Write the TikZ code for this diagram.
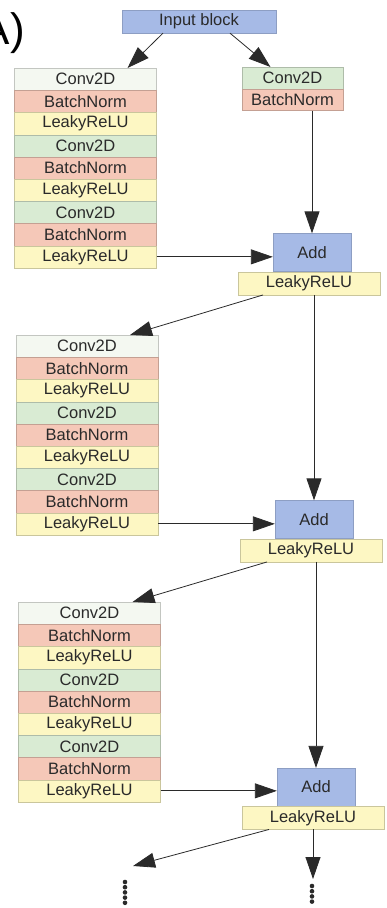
\documentclass[tikz,border=0pt]{standalone}
\usepackage{fontspec}
\setmainfont{Liberation Sans}
\usepackage{xcolor}
\usetikzlibrary{arrows.meta,positioning}

\definecolor{ink}{HTML}{2A2A2A}
\definecolor{convpale}{HTML}{F4F8F1}
\definecolor{convgreen}{HTML}{D9EBD3}
\definecolor{bnred}{HTML}{F5C8B8}
\definecolor{reluyel}{HTML}{FDF7C3}
\definecolor{addblue}{HTML}{A6BAE6}

\newcommand{\layfont}{\fontsize{16.5}{17}\selectfont}

\begin{document}
\begin{tikzpicture}[x=1pt, y=-1pt,
  lay/.style={draw=#1!80!black, fill=#1, line width=0.3pt, minimum width=142pt,
    minimum height=22.2pt, inner sep=0pt, text=ink, font=\layfont},
  addbox/.style={draw=addblue!85!black, fill=addblue, line width=0.3pt, minimum width=78pt,
    minimum height=38pt, inner sep=0pt, text=ink, font=\layfont},
  arr/.style={draw=ink, line width=0.8pt, -{Triangle[length=22pt,width=15pt]}}]
\useasboundingbox (0,0) rectangle (386,908);

% Panel label
\node[anchor=base east, inner sep=0pt, font=\fontsize{44}{44}\selectfont] (lbl) at (25,44) {A)};

% Input
\node[addbox, minimum width=154pt, minimum height=23pt] (inp) at (199,21.5) {Input block};

% Shortcut branch
\node[lay=convgreen, minimum width=101pt, minimum height=21.5pt, anchor=north] (rconv) at (292.5,67) {Conv2D};
\node[lay=bnred, minimum width=101pt, minimum height=21.5pt, below=0pt of rconv] (rbn) {BatchNorm};

% Residual blocks (left)
\foreach \b/\x/\y in {1/85.5/68, 2/87/335, 3/89.5/602} {
  \foreach \c/\t [count=\i] in {convpale/Conv2D, bnred/BatchNorm, reluyel/LeakyReLU,
      convgreen/Conv2D, bnred/BatchNorm, reluyel/LeakyReLU,
      convgreen/Conv2D, bnred/BatchNorm, reluyel/LeakyReLU}
    \node[lay=\c, anchor=north] (b\b-\i) at (\x,\y+\i*22.2-22.2) {\t};
}

% Add + activation
\foreach \k/\x/\y in {1/312/252.5, 2/314/519.5, 3/316/787} {
  \node[addbox] (add\k) at (\x,\y) {Add};
  \node[lay=reluyel, minimum width=142pt, minimum height=23pt, below=0pt of add\k, xshift=-3pt] (relu\k) {LeakyReLU};
}

% Connections
\draw[arr] ([xshift=-36pt]inp.south) -- ([xshift=42pt]b1-1.north);
\draw[arr] ([xshift=31pt]inp.south) -- ([xshift=-22pt]rconv.north);
\draw[arr] (rbn.south -| add1.north) -- (add1.north);
\draw[arr] (relu1.south -| add2.north) -- (add2.north);
\draw[arr] (relu2.south -| add3.north) -- (add3.north);
\foreach \k in {1,2,3}
  \draw[arr] (b\k-9.east) -- (b\k-9.east -| add\k.west);
\draw[arr] ([xshift=-46pt]relu1.south) -- ([xshift=43pt]b2-1.north);
\draw[arr] ([xshift=-44pt]relu2.south) -- ([xshift=43pt]b3-1.north);

% Continuation
\coordinate (moreL) at (133,866);
\coordinate (moreR) at (313,879);
\draw[arr] ([xshift=-44pt]relu3.south) -- (moreL);
\draw[arr] (relu3.south -| moreR) -- (moreR);
\foreach \d in {0,...,4}
  \fill[ink] (125,882+\d*5.2) circle (2.3);
\foreach \d in {0,...,3}
  \fill[ink] (312,886+\d*5.2) circle (2.3);
\end{tikzpicture}
\end{document}
